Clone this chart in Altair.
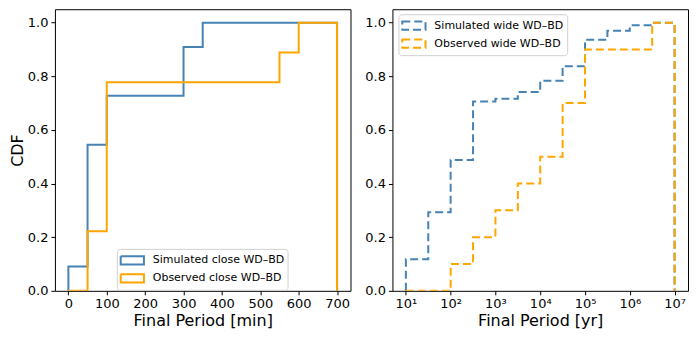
import altair as alt
import pandas as pd

# ---- data ----
close_edges = [0, 50, 100, 150, 200, 250, 300, 350, 400, 450, 500, 550, 600, 650, 700]
sim_close = [0.091, 0.545, 0.727, 0.727, 0.727, 0.727, 0.909, 1.0, 1.0, 1.0, 1.0, 1.0, 1.0, 1.0]
obs_close = [0.0, 0.222, 0.778, 0.778, 0.778, 0.778, 0.778, 0.778, 0.778, 0.778, 0.778, 0.889, 1.0, 1.0]

wide_edge_exp = [1.0, 1.5, 2.0, 2.5, 3.0, 3.5, 4.0, 4.5, 5.0, 5.5, 6.0, 6.5, 7.0]
sim_wide = [0.118, 0.293, 0.488, 0.706, 0.716, 0.741, 0.783, 0.837, 0.936, 0.970, 0.990, 1.0]
obs_wide = [0.0, 0.0, 0.1, 0.2, 0.3, 0.4, 0.5, 0.7, 0.9, 0.9, 0.9, 1.0]

BLUE = "#4682b4"
ORANGE = "#ffa500"


def step_rows(edges, values, label):
    rows = [{"x": edges[0], "y": 0.0, "s": label, "o": 0}]
    for i, v in enumerate(values):
        rows.append({"x": edges[i], "y": v, "s": label, "o": i + 1})
    rows.append({"x": edges[-1], "y": values[-1], "s": label, "o": len(values) + 1})
    rows.append({"x": edges[-1], "y": 0.0, "s": label, "o": len(values) + 2})
    return rows


wide_edges = [10 ** e for e in wide_edge_exp]

left_names = ["Simulated close WD–BD", "Observed close WD–BD"]
right_names = ["Simulated wide WD–BD", "Observed wide WD–BD"]

df_l_sim = pd.DataFrame(step_rows(close_edges, sim_close, left_names[0]))
df_l_obs = pd.DataFrame(step_rows(close_edges, obs_close, left_names[1]))
df_r_sim = pd.DataFrame(step_rows(wide_edges, sim_wide, right_names[0]))
df_r_obs = pd.DataFrame(step_rows(wide_edges, obs_wide, right_names[1]))

W, H = 296, 282
rect_path = "M-1.55,-0.55H1.55V0.55H-1.55Z"

yaxis_kw = dict(values=[0, 0.2, 0.4, 0.6, 0.8, 1.0], format=".1f", grid=False)


def panel(df_a, df_b, names, xscale, xaxis, xtitle, ytitle, lx, ly, dash):
    color = alt.Color(
        "s:N",
        scale=alt.Scale(domain=names, range=[BLUE, ORANGE]),
        legend=alt.Legend(
            title=None, orient="none", legendX=lx, legendY=ly,
            symbolType=rect_path, symbolSize=225, symbolStrokeWidth=2,
            symbolFillColor="transparent", symbolDash=dash if dash else [1, 0],
            symbolOffset=4,
            labelFontSize=11, labelFont="DejaVu Sans", labelColor="#000",
            fillColor="white", strokeColor="#d0d0d0", cornerRadius=3,
            padding=3, rowPadding=1, labelOffset=12,
        ),
    )
    mk = dict(interpolate="step-after", strokeWidth=2, clip=True)
    if dash:
        mk["strokeDash"] = dash
    base_enc = dict(
        x=alt.X("x:Q", scale=xscale, axis=xaxis, title=xtitle),
        y=alt.Y("y:Q", scale=alt.Scale(domain=[0, 1.05], nice=False, zero=False),
                axis=alt.Axis(**yaxis_kw), title=ytitle),
        order="o:Q",
        color=color,
    )
    a = alt.Chart(df_a).mark_line(**mk).encode(**base_enc)
    b = alt.Chart(df_b).mark_line(**mk).encode(**base_enc)
    return alt.layer(a, b).properties(width=W, height=H)


left = panel(
    df_l_sim, df_l_obs, left_names,
    alt.Scale(domain=[-35, 735], nice=False, zero=False),
    alt.Axis(values=[0, 100, 200, 300, 400, 500, 600, 700], format="d", grid=False),
    "Final Period [min]", "CDF", 62, 240, None,
)

right = panel(
    df_r_sim, df_r_obs, right_names,
    alt.Scale(type="log", domain=[10 ** 0.7, 10 ** 7.3], nice=False),
    alt.Axis(values=[10 ** k for k in range(1, 8)], grid=False,
             labelExpr="'10' + ['⁰','¹','²','³','⁴','⁵','⁶','⁷'][round(log(datum.value)/LN10)]"),
    "Final Period [yr]", "", 6, 5, [8, 4],
)

chart = alt.hconcat(left, right, spacing=12).resolve_scale(color="independent").properties(
    padding={"left": 0, "top": 0, "right": 0, "bottom": 0}
).configure_view(stroke="#000", strokeWidth=1).configure_axis(
    labelFont="DejaVu Sans", titleFont="DejaVu Sans",
    labelFontSize=13, titleFontSize=16, titleFontWeight="normal",
    labelColor="#000", titleColor="#000",
    tickColor="#000", domainColor="#000", tickSize=4, labelPadding=3,
    titlePadding=2, domain=False,
)

chart.save("out.html", embed_options={"renderer": "svg", "actions": False})
